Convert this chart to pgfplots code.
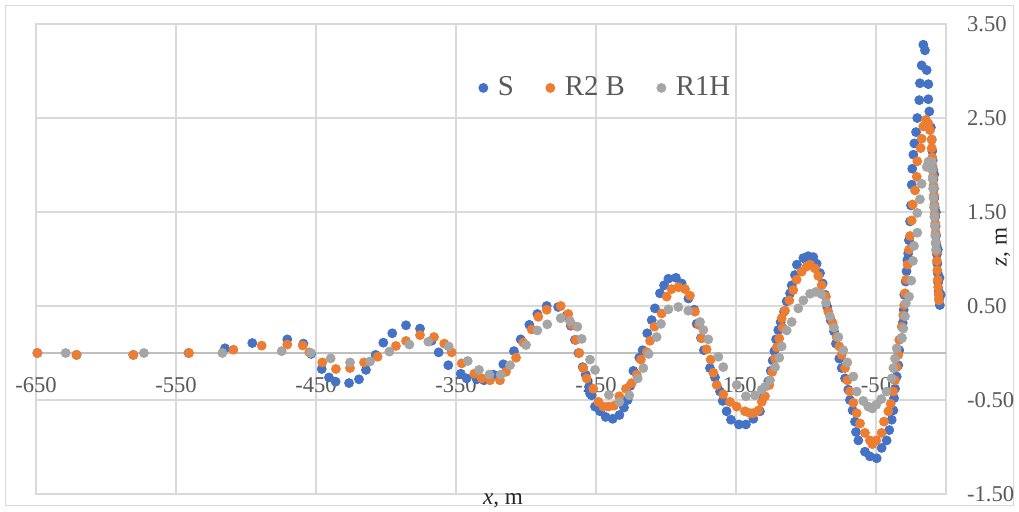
\documentclass[border=0pt]{standalone}
\usepackage{fontspec}
\setmainfont{Liberation Serif}
\usepackage{pgfplots}
\usepackage{pgfplotstable}
\pgfplotsset{compat=1.18}
\definecolor{cS}{HTML}{4472C4}
\definecolor{cR}{HTML}{ED7D31}
\definecolor{cG}{HTML}{A5A5A5}
\definecolor{gridc}{HTML}{D9D9D9}
\definecolor{zeroc}{HTML}{BFBFBF}
\definecolor{tickc}{HTML}{595959}

\pgfplotstableread{
x z
-649 0
-621 -0.02
-580.5 -0.02
-541 0
-515 0.05
-495.5 0.106
-470.5 0.145
-459 0.10
-453.5 -0.01
-445.9 -0.17
-440.7 -0.26
-436 -0.305
-426.4 -0.32
-419.3 -0.28
-414.3 -0.18
-407.4 -0.02
-401.9 0.11
-395.5 0.21
-385.7 0.295
-375.7 0.26
-367.4 0.13
-362.4 0.007
-355.5 -0.13
-346.6 -0.22
-342.4 -0.27
-335.2 -0.28
-330 -0.29
-323.4 -0.23
-316.2 -0.12
-308.6 0.02
-303.8 0.145
-297.6 0.30
-291.9 0.415
-285.2 0.50
-277 0.49
-271 0.40
-268 0.29
-265 0.14
-262.5 0.0
-259.5 -0.15
-257.4 -0.23
-255 -0.36
-254.3 -0.43
-253.1 -0.45
-250.7 -0.57
-247.1 -0.62
-243.1 -0.68
-238.1 -0.70
-233.3 -0.66
-230 -0.58
-227.4 -0.50
-225.5 -0.35
-223.3 -0.19
-219.1 -0.05
-216.7 0.03
-213.4 0.21
-210.2 0.35
-207.9 0.475
-204.3 0.635
-201.4 0.72
-198.3 0.79
-192.9 0.80
-188.8 0.74
-184 0.58
-179.8 0.46
-178.1 0.31
-175 0.16
-172.9 0.03
-168.6 -0.16
-165 -0.26
-161.4 -0.41
-159.5 -0.51
-156.7 -0.62
-153.6 -0.71
-147.9 -0.76
-142.9 -0.76
-137.6 -0.70
-132.9 -0.62
-130.5 -0.47
-126.9 -0.30
-125.2 -0.19
-123.8 -0.08
-122.6 0.02
-121.4 0.145
-119.8 0.245
-118.1 0.33
-115.7 0.44
-113.8 0.55
-111.4 0.635
-110.2 0.72
-107.9 0.83
-106.5 0.94
-101.9 1.01
-98.4 1.03
-94.8 1.02
-92.4 0.95
-90 0.85
-88.1 0.74
-86.4 0.62
-84.8 0.49
-82.4 0.35
-80 0.23
-78.6 0.10
-76.2 -0.06
-74.5 -0.16
-72.1 -0.27
-69.8 -0.39
-68.6 -0.50
-66.7 -0.61
-65 -0.73
-64.3 -0.84
-62.6 -0.93
-57.9 -1.05
-54.3 -1.10
-49.5 -1.12
-46 -1.01
-42.4 -0.93
-40.5 -0.82
-38.8 -0.71
-37.6 -0.61
-37.1 -0.48
-36.4 -0.38
-35.2 -0.25
-34.1 -0.13
-33.4 0.03
-31.6 0.16
-30.9 0.32
-30.2 0.46
-29.8 0.62
-28.8 0.76
-28.2 0.87
-27.6 0.99
-27.0 1.06
-26.5 1.20
-25.7 1.40
-25.0 1.57
-24.5 1.79
-24.1 1.96
-23.3 2.11
-22.6 2.23
-21.4 2.35
-20.5 2.50
-19.1 2.69
-18.6 2.87
-17.4 3.06
-16.2 3.28
-15 3.22
-13.8 3.01
-12.6 2.86
-12.6 2.70
-11.9 2.57
-10.8 2.40
-10.2 2.27
-9.8 2.15
-9.5 2.05
-9.2 1.95
-8.9 1.85
-8.6 1.75
-8.3 1.65
-8.0 1.55
-7.7 1.45
-7.4 1.35
-7.1 1.25
-6.8 1.15
-6.5 1.05
-6.2 0.95
-5.9 0.85
-5.6 0.75
-5.2 0.66
-4.8 0.58
-4.4 0.51
-8.4 1.90
-7.2 1.50
-5.8 1.10
-4.6 0.80
-3.8 0.62
}\dataS

\pgfplotstableread{
x z
-649 0
-621 -0.02
-580.5 -0.02
-540.7 0
-509 0.035
-488.8 0.078
-470.5 0.09
-459.5 0.08
-454.8 0.007
-445.5 -0.10
-435.8 -0.17
-425.7 -0.16
-415.7 -0.10
-406 -0.04
-392.9 0.075
-385.7 0.128
-375.7 0.19
-365.7 0.17
-358.4 0.10
-353.1 0.007
-345.9 -0.11
-336.9 -0.22
-331.7 -0.27
-325.7 -0.29
-318.6 -0.29
-314.3 -0.20
-307.1 -0.05
-301.9 0.11
-295.9 0.25
-291.2 0.385
-285.2 0.46
-275.2 0.50
-269.8 0.415
-267.4 0.30
-264.3 0.14
-261.9 0.0
-259.1 -0.16
-256.7 -0.27
-252 -0.38
-248.3 -0.52
-244.8 -0.57
-241.2 -0.57
-237.1 -0.56
-233.4 -0.46
-228.6 -0.38
-224.5 -0.32
-220.9 -0.23
-217.9 -0.07
-213.8 0.01
-211.4 0.13
-208.3 0.28
-203.1 0.42
-199.5 0.60
-196 0.68
-191.2 0.70
-186.4 0.68
-182.9 0.61
-179.3 0.44
-176.5 0.30
-174.5 0.156
-171 0.04
-168.1 -0.07
-166.2 -0.21
-163.8 -0.34
-159.1 -0.44
-154.3 -0.52
-149.5 -0.57
-143.6 -0.62
-140 -0.64
-137.6 -0.64
-134 -0.61
-131.6 -0.52
-129.3 -0.46
-126.2 -0.34
-124.1 -0.20
-122.1 -0.06
-120.9 0.06
-119.1 0.155
-116.7 0.27
-117.4 0.37
-115 0.45
-111.9 0.56
-109.1 0.67
-106.7 0.78
-103.1 0.865
-99.5 0.92
-97.1 0.94
-93.6 0.90
-91.2 0.82
-88.8 0.72
-85.7 0.60
-84.1 0.44
-81 0.32
-78.1 0.17
-76.2 0.07
-74.5 -0.02
-72.1 -0.16
-70.5 -0.29
-68.6 -0.41
-66.2 -0.53
-63.8 -0.64
-61.4 -0.75
-57.9 -0.85
-54.3 -0.93
-52.6 -0.97
-49.8 -0.93
-46 -0.85
-44.3 -0.73
-41.2 -0.62
-39.5 -0.54
-37.6 -0.41
-36.4 -0.29
-35.2 -0.15
-34.1 -0.02
-33.4 0.14
-31.6 0.28
-30.5 0.40
-29.8 0.51
-29.2 0.635
-28.4 0.78
-27.4 0.94
-26.4 1.10
-25.7 1.245
-24.5 1.41
-23.8 1.58
-22.1 1.73
-20.9 1.875
-20.5 2.04
-18.1 2.18
-17.4 2.28
-16.2 2.41
-14.3 2.48
-12.6 2.44
-11.4 2.37
-10.2 2.27
-10.2 2.18
-9.8 2.08
-9.5 1.98
-9.2 1.88
-8.9 1.78
-8.6 1.68
-8.3 1.58
-8.0 1.48
-7.7 1.38
-7.4 1.28
-7.1 1.18
-6.8 1.08
-6.5 0.98
-6.2 0.88
-5.9 0.78
-5.6 0.70
-5.3 0.62
-5.0 0.56
}\dataR

\pgfplotstableread{
x z
-628.8 0
-572.9 0
-516.9 0
-474.5 0.02
-453.8 0
-439.5 -0.057
-425.7 -0.10
-411.4 -0.09
-397.6 0.015
-383.3 0.09
-369.8 0.12
-355.2 0.07
-341.6 -0.085
-333.6 -0.18
-326.2 -0.23
-318.1 -0.23
-311.4 -0.13
-300 0.085
-291.9 0.24
-284.8 0.305
-275.2 0.37
-268.6 0.34
-263.3 0.28
-260.2 0.15
-254.3 -0.07
-250.7 -0.18
-240.8 -0.445
-233.3 -0.52
-226.2 -0.45
-220.2 -0.27
-216.2 -0.16
-212.4 -0.01
-206.7 0.17
-203.6 0.31
-198.3 0.465
-191.2 0.49
-184.1 0.45
-175.7 0.33
-173.3 0.245
-169.8 0.145
-162.6 -0.04
-159.1 -0.15
-149.5 -0.34
-142.9 -0.46
-136.4 -0.45
-131.6 -0.39
-129.3 -0.36
-125.7 -0.29
-122.1 -0.15
-119.1 -0.05
-117.4 0.07
-113.8 0.24
-110.2 0.33
-105.5 0.475
-101.9 0.56
-97.1 0.63
-92.9 0.65
-88.8 0.625
-85.7 0.535
-82.9 0.39
-80 0.27
-76.9 0.17
-73.4 0.03
-70.5 -0.10
-66.2 -0.25
-63.8 -0.41
-59.1 -0.51
-55.5 -0.57
-52.6 -0.59
-49.8 -0.55
-46.2 -0.49
-42.4 -0.41
-38.8 -0.27
-37.6 -0.16
-36.4 -0.06
-35.2 0.05
-31.6 0.16
-30.5 0.26
-29.3 0.39
-28.6 0.53
-26.4 0.60
-24.8 0.77
-23.6 0.98
-22.9 1.14
-20.5 1.28
-20.5 1.49
-18.6 1.635
-17.4 1.80
-13.8 1.98
-12.6 2.035
-10.2 2.035
-9.8 1.95
-9.5 1.85
-9.2 1.75
-8.9 1.65
-8.6 1.55
-8.3 1.45
-8.0 1.35
-7.7 1.25
-7.4 1.17
-7.1 1.10
}\dataG

\begin{document}
\begin{tikzpicture}
\path[use as bounding box] (0,0) rectangle (509.5pt,255.5pt);
\draw[gridc, line width=0.6pt] (2.75pt,2.75pt) rectangle (506.75pt,252.75pt);
\begin{axis}[
  at={(18pt,8.5pt)}, anchor=south west,
  scale only axis, width=455pt, height=235pt,
  xmin=-650, xmax=0, ymin=-1.5, ymax=3.5,
  xtick={-650,-550,-450,-350,-250,-150,-50},
  ytick={-1.5,-0.5,0.5,1.5,2.5,3.5},
  grid=major,
  major grid style={draw=gridc, line width=0.6pt},
  axis line style={draw=gridc, line width=0.6pt},
  major tick length=0pt, minor tick length=0pt,
  yticklabel pos=right,
  /pgf/number format/assume math mode=true,
  tick label style={font=\fontsize{11.3}{13}\selectfont, text=tickc},
  xticklabel style={yshift=62pt},
  yticklabel style={anchor=west, xshift=7pt},
  y tick label style={/pgf/number format/.cd, fixed, fixed zerofill, precision=2, /tikz/.cd},
  x tick label style={/pgf/number format/.cd, fixed, precision=0, /tikz/.cd},
  extra y ticks={0}, extra y tick labels={},
  extra y tick style={major grid style={draw=zeroc, line width=0.9pt}},
  legend columns=3,
  legend style={at={(0.627,0.864)}, anchor=center, draw=none, fill=none,
    font=\fontsize{14.4}{16}\selectfont, text=tickc,
    /tikz/every odd column/.append style={column sep=3pt},
    /tikz/every even column/.append style={column sep=14pt}},
  legend image code/.code={\draw[#1, only marks] plot coordinates {(0pt,0pt)};},
]
\addplot[only marks, mark=*, mark size=2.25pt, draw=cS, fill=cS, mark options={draw=cS, fill=cS}] table[x=x, y=z] {\dataS};
\addlegendentry{S}
\addplot[only marks, mark=*, mark size=2.25pt, draw=cR, fill=cR, mark options={draw=cR, fill=cR}] table[x=x, y=z] {\dataR};
\addlegendentry{R2 B}
\addplot[only marks, mark=*, mark size=2.25pt, draw=cG, fill=cG, mark options={draw=cG, fill=cG}] table[x=x, y=z] {\dataG};
\addlegendentry{R1H}
\end{axis}
\node[anchor=base, font=\fontsize{11.6}{13}\selectfont, text=black!85] at (251.5pt,3.5pt) {\textit{x}, m};
\node[rotate=90, font=\fontsize{11.6}{13}\selectfont, text=black!85] at (501.5pt,132pt) {\textit{z}, m};
\end{tikzpicture}
\end{document}
